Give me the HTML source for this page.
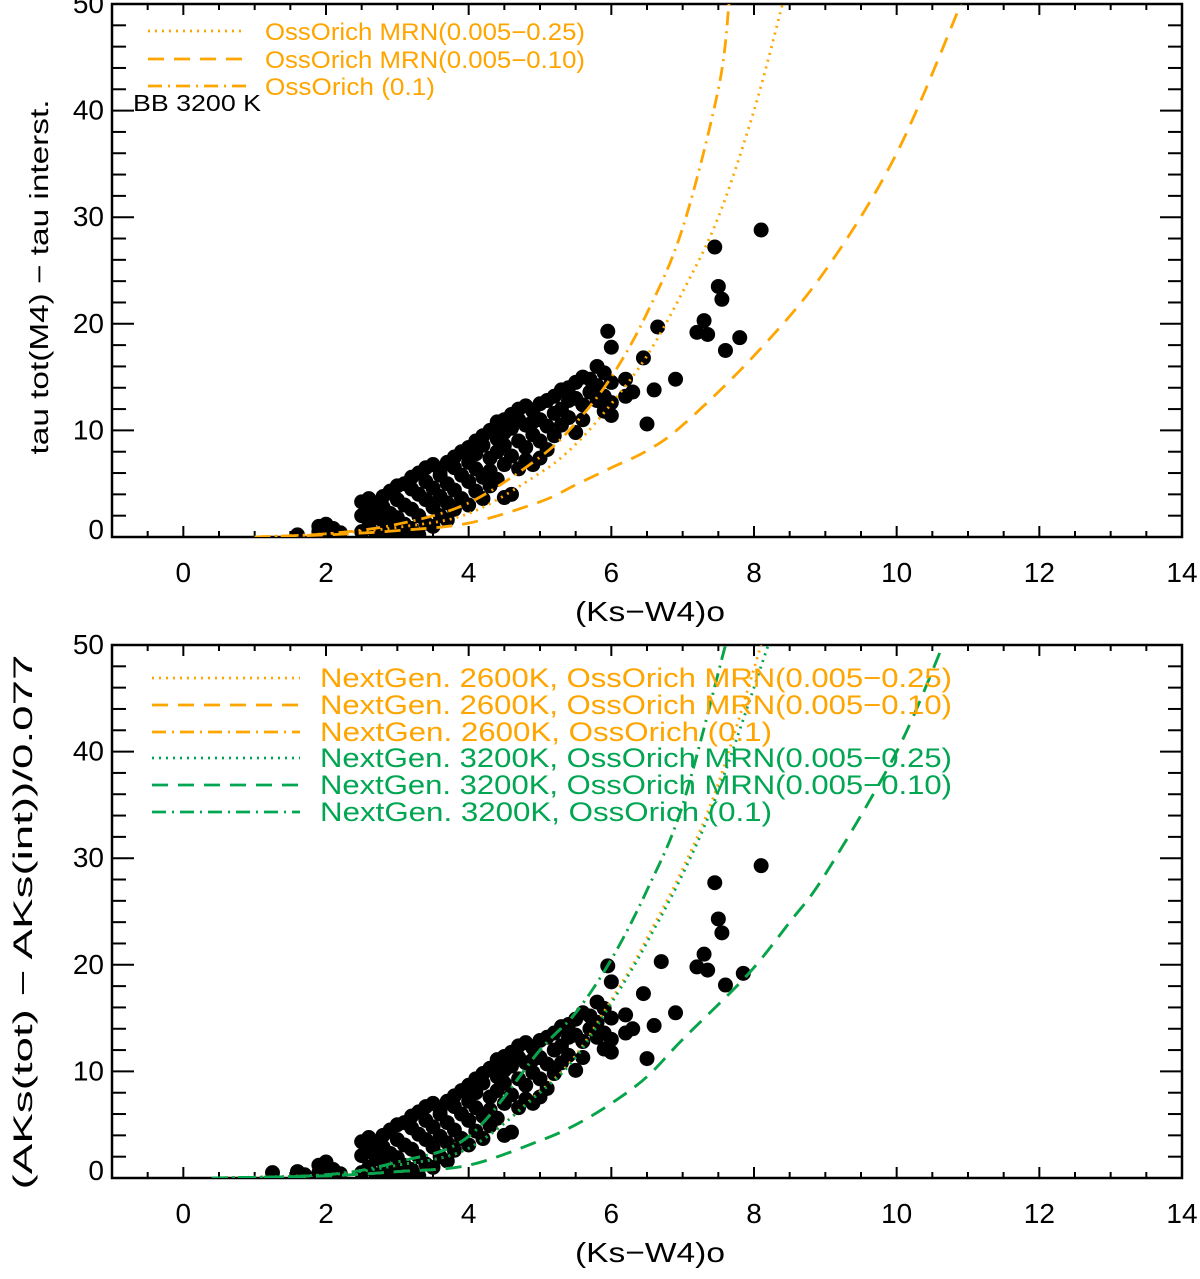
<!DOCTYPE html>
<html><head><meta charset="utf-8"><style>
html,body{margin:0;padding:0;background:#fff;}
svg{display:block;font-family:"Liberation Sans",sans-serif;}
</style></head><body>
<svg id="fig" width="1200" height="1279" viewBox="0 0 1200 1279" xmlns="http://www.w3.org/2000/svg"></svg>
<script>
// ---------- data ----------
const xTicks = [0,2,4,6,8,10,12,14];
const yTicks = [0,10,20,30,40,50];
const topCloud = [[1.6,0.2],[1.9,0.5],[1.9,1.0],[2.0,0.2],[2.0,1.2],[2.1,0.8],[2.2,0.4],[2.5,3.3],[2.5,2.0],[2.5,0.5],[2.6,3.6],[2.6,2.6],[2.6,1.0],[2.7,3.0],[2.7,1.8],[2.7,0.3],[2.8,3.8],[2.8,2.8],[2.8,1.5],[2.8,0.4],[2.9,4.3],[2.9,2.2],[2.9,0.8],[3.0,3.5],[3.0,4.8],[3.0,1.8],[3.0,0.5],[3.1,5.0],[3.1,3.0],[3.1,1.2],[3.1,0.2],[3.2,4.5],[3.2,5.6],[3.2,2.6],[3.2,0.8],[3.3,6.0],[3.3,4.0],[3.3,2.0],[3.3,0.2],[3.4,5.2],[3.4,6.5],[3.4,3.5],[3.4,1.3],[3.5,6.8],[3.5,4.6],[3.5,2.8],[3.5,1.0],[3.6,5.8],[3.6,6.2],[3.6,3.8],[3.6,2.0],[3.7,7.0],[3.7,5.0],[3.7,3.2],[3.7,1.6],[3.8,6.5],[3.8,7.5],[3.8,4.4],[3.8,2.6],[3.9,5.8],[3.9,8.0],[3.9,3.6],[4.0,7.0],[4.0,8.4],[4.0,5.2],[4.0,3.0],[4.1,6.4],[4.1,9.0],[4.1,7.8],[4.1,4.3],[4.2,8.6],[4.2,5.6],[4.2,9.5],[4.2,3.6],[4.3,7.4],[4.3,10.0],[4.3,6.2],[4.3,4.8],[4.4,9.2],[4.4,10.8],[4.4,8.0],[4.4,5.4],[4.5,11.0],[4.5,9.8],[4.5,6.8],[4.5,3.7],[4.5,8.6],[4.6,10.2],[4.6,11.5],[4.6,7.6],[4.6,4.0],[4.7,9.0],[4.7,11.0],[4.7,12.0],[4.7,6.4],[4.8,10.5],[4.8,8.4],[4.8,12.3],[4.8,7.2],[4.9,11.8],[4.9,9.6],[4.9,10.8],[4.9,6.8],[5.0,12.5],[5.0,11.0],[5.0,9.0],[5.0,7.4],[5.1,10.4],[5.1,12.8],[5.1,8.2],[5.2,13.2],[5.2,11.6],[5.2,9.5],[5.3,12.0],[5.3,13.8],[5.3,10.5],[5.4,14.0],[5.4,12.8],[5.4,11.2],[5.5,14.5],[5.5,13.0],[5.5,9.8],[5.6,15.0],[5.6,12.4],[5.6,11.0],[5.7,14.8],[5.7,13.6],[5.8,16.0],[5.8,14.2],[5.8,12.8],[5.9,15.4],[5.9,13.2],[5.9,11.8],[6.0,14.5],[6.0,12.6],[6.0,11.4],[6.0,17.8],[5.95,19.3],[6.2,13.2],[6.2,14.8],[6.3,13.6],[6.5,10.6],[6.45,16.8],[6.6,13.8],[6.65,19.7],[6.9,14.8],[7.45,27.2],[8.1,28.8],[7.5,23.5],[7.55,22.3],[7.3,20.3],[7.2,19.2],[7.35,19.0],[7.8,18.7],[7.6,17.5]];
const botCloud = [[1.25,0.5],[1.6,0.6],[1.7,0.3],[1.9,0.5],[1.9,1.2],[2.0,0.3],[2.0,1.5],[2.1,0.8],[2.2,0.4],[2.5,3.4],[2.5,2.1],[2.5,0.5],[2.6,3.8],[2.6,2.7],[2.6,1.0],[2.7,3.1],[2.7,1.8],[2.7,0.3],[2.8,4.0],[2.8,2.9],[2.8,1.5],[2.8,0.4],[2.9,4.5],[2.9,2.3],[2.9,0.8],[3.0,3.6],[3.0,5.0],[3.0,1.9],[3.0,0.5],[3.1,5.2],[3.1,3.1],[3.1,1.2],[3.1,0.2],[3.2,4.7],[3.2,5.8],[3.2,2.7],[3.2,0.8],[3.3,6.2],[3.3,4.1],[3.3,2.0],[3.3,0.2],[3.4,5.4],[3.4,6.7],[3.4,3.6],[3.4,1.3],[3.5,7.0],[3.5,4.8],[3.5,2.9],[3.5,1.0],[3.6,6.0],[3.6,6.4],[3.6,3.9],[3.6,2.0],[3.7,7.2],[3.7,5.2],[3.7,3.3],[3.7,1.6],[3.8,6.7],[3.8,7.7],[3.8,4.5],[3.8,2.6],[3.9,6.0],[3.9,8.2],[3.9,3.7],[4.0,7.2],[4.0,8.7],[4.0,5.4],[4.0,3.1],[4.1,6.6],[4.1,9.3],[4.1,8.0],[4.1,4.4],[4.2,8.9],[4.2,5.8],[4.2,9.8],[4.2,3.7],[4.3,7.6],[4.3,10.3],[4.3,6.4],[4.3,4.9],[4.4,9.5],[4.4,11.1],[4.4,8.2],[4.4,5.6],[4.5,11.4],[4.5,10.1],[4.5,7.0],[4.5,4.0],[4.5,8.9],[4.6,10.5],[4.6,11.8],[4.6,7.8],[4.6,4.3],[4.7,9.3],[4.7,11.3],[4.7,12.4],[4.7,6.6],[4.8,10.8],[4.8,8.7],[4.8,12.7],[4.8,7.4],[4.9,12.2],[4.9,9.9],[4.9,11.1],[4.9,7.0],[5.0,12.9],[5.0,11.3],[5.0,9.3],[5.0,7.6],[5.1,10.7],[5.1,13.2],[5.1,8.4],[5.2,13.6],[5.2,12.0],[5.2,9.8],[5.3,12.4],[5.3,14.2],[5.3,10.8],[5.4,14.4],[5.4,13.2],[5.4,11.5],[5.5,14.9],[5.5,13.4],[5.5,10.1],[5.6,15.5],[5.6,12.8],[5.6,11.3],[5.7,15.2],[5.7,14.0],[5.8,16.5],[5.8,14.6],[5.8,13.2],[5.9,15.9],[5.9,13.6],[5.9,12.1],[6.0,15.0],[6.0,13.0],[6.0,11.8],[6.0,18.4],[5.95,19.9],[6.2,13.6],[6.2,15.3],[6.3,14.0],[6.5,11.2],[6.45,17.3],[6.6,14.3],[6.7,20.3],[6.9,15.5],[7.45,27.7],[8.1,29.3],[7.5,24.3],[7.55,23.0],[7.3,21.0],[7.2,19.8],[7.35,19.5],[7.85,19.2],[7.6,18.1]];
// top model curves [x,y]
const topDot = [[1,0],[2,0.3],[3,0.9],[4,2.2],[5,6],[5.5,8.7],[6,12.5],[6.5,17],[7,23],[7.5,30],[8,40],[8.4,50]];
const topDash = [[1,0],[2,0.2],[3,0.6],[4,1.3],[5,3.3],[5.5,4.9],[6,6.5],[6.5,8.1],[7,10.5],[8,17],[9,25],[10,36],[10.9,50]];
const topDashDot = [[1,0],[2,0.3],[3,1.2],[4,3.2],[5,7.5],[5.5,10.7],[6,15],[6.5,21],[7,29],[7.5,42],[7.65,50]];
// bottom model curves
const orDot = [[0.4,0],[2,0.3],[3,1.2],[4,2.8],[5,8.1],[5.5,11.5],[6,16.7],[6.3,20],[6.5,22.5],[7,29],[7.5,37],[8.1,50]];
const orDash = [[0.4,0],[2,0.2],[3,0.6],[4,1.2],[5,3.5],[5.5,5],[6,7],[6.5,9.5],[7,13],[7.9,19],[8.5,24],[9,28.5],[10,40],[10.65,50]];
const orDashDot = [[0.4,0],[2,0.3],[3,1.5],[4,3.9],[5,12],[5.5,15.5],[6,20.5],[6.5,27],[7,35],[7.6,50]];
const grDot = [[0.4,0],[2,0.3],[3,1.2],[4,2.8],[5,8.0],[5.5,11.3],[6,16.4],[6.3,19.7],[6.5,22.1],[7,28.5],[7.5,36.3],[8.2,50]];
const grDash = [[0.4,0],[2,0.2],[3,0.6],[4,1.2],[5,3.5],[5.5,5],[6,7],[6.5,9.5],[7,13],[7.9,19],[8.5,24],[9,28.5],[10,40],[10.65,50]];
const grDashDot = [[0.4,0],[2,0.3],[3,1.5],[4,3.9],[5,12],[5.5,15.5],[6,20.5],[6.5,27],[7,35],[7.6,50]];

const OR = '#FFA500', GR = '#00A651';
const svg = document.getElementById('fig');
const NS = 'http://www.w3.org/2000/svg';
function mk(tag, attrs, parent){const e=document.createElementNS(NS,tag);for(const k in attrs)e.setAttribute(k,attrs[k]);(parent||svg).appendChild(e);return e;}
const DASH = {dot:'2,5', dash:'16,10', dashdot:'14,6,2,6'};
function smooth(pts){
  let d='M'+pts[0][0].toFixed(1)+','+pts[0][1].toFixed(1);
  for(let i=0;i<pts.length-1;i++){
    const p0=pts[i-1]||pts[i], p1=pts[i], p2=pts[i+1], p3=pts[i+2]||p2;
    const c1=[p1[0]+(p2[0]-p0[0])/6, p1[1]+(p2[1]-p0[1])/6];
    const c2=[p2[0]-(p3[0]-p1[0])/6, p2[1]-(p3[1]-p1[1])/6];
    d+=' C'+c1.map(v=>v.toFixed(1)).join(',')+' '+c2.map(v=>v.toFixed(1)).join(',')+' '+p2.map(v=>v.toFixed(1)).join(',');
  }
  return d;
}

function panel(P){
  const g = mk('g',{});
  
  
  const L=112,R=1182,T=P.top,B=P.bottom;
  const sx = v => L + (v - (-1)) * (R - L) / 15;
  const sy = v => B - v * (B - T) / 50;
  const clipId = P.name + '-clip';
  const cp = mk('clipPath',{id:clipId},g); mk('rect',{x:L,y:T,width:R-L,height:B-T},cp);
  const tg = mk('g',{stroke:'#000','stroke-width':2},g);
  
  
  for(let v=-1; v<=14.01; v+=0.5){
    const major = Math.abs(v % 2) < 1e-6, len = major?11:6, x=sx(v);
    mk('line',{x1:x,y1:B,x2:x,y2:B-len},tg); mk('line',{x1:x,y1:T,x2:x,y2:T+len},tg);
  }
  for(let v=0; v<=50; v+=2){
    const major = v%10===0, len = major?22:14, y=sy(v);
    mk('line',{x1:L,y1:y,x2:L+len,y2:y},tg); mk('line',{x1:R,y1:y,x2:R-len,y2:y},tg);
  }
  const fr = mk('rect',{x:L,y:T,width:R-L,height:B-T,fill:'none',stroke:'#000','stroke-width':2.5},g);
  
  
  xTicks.forEach(v=>{
    const t=mk('text',{x:sx(v),y:B+45,'font-size':28,'text-anchor':'middle'},g); t.textContent=v;
    
    
  });
  yTicks.forEach(v=>{
    const t=mk('text',{x:L-8,y:sy(v)+(v===0?2:9),'font-size':28,'text-anchor':'end'},g); t.textContent=v;
    
    
  });
  const xt=mk('text',{x:575,y:B+84,'font-size':28,textLength:150,lengthAdjust:'spacingAndGlyphs'},g); xt.textContent='(Ks\u2212W4)o';
  
  
  const yt=mk('text',{x:-P.ytlen/2,y:0,'font-size':P.ytfs,textLength:P.ytlen,lengthAdjust:'spacingAndGlyphs',transform:`translate(${P.ytx},${P.ytc}) rotate(-90)`},g); yt.textContent=P.ytitle;
  
  
  const pg = mk('g',{'clip-path':`url(#${clipId})`},g);
  P.points.forEach(p=>{
    const c=mk('circle',{cx:sx(p[0]),cy:sy(p[1]),r:7.5,fill:'#000'},pg);
    
    
  });
  P.curves.forEach(cv=>{
    const pts = cv.data.map(p=>[sx(p[0]),sy(p[1])]);
    const pa = mk('path',{d:smooth(pts),fill:'none',stroke:cv.color,'stroke-width':2.8,'stroke-dasharray':DASH[cv.style],'stroke-linecap':'butt'},pg);
    
    
  });
  P.legend.forEach(lg=>{
    const ln = mk('line',{x1:lg.x1,y1:lg.y-9,x2:lg.x2,y2:lg.y-9,stroke:lg.color,'stroke-width':2.8,'stroke-dasharray':DASH[lg.style]},g);
    
    
    const t = mk('text',{x:lg.tx,y:lg.y,'font-size':P.lfs,fill:lg.color,textLength:lg.w,lengthAdjust:'spacingAndGlyphs'},g); t.textContent=lg.label;
    
    
  });
  return {g,sx,sy};
}

const p1 = panel({name:'top-panel',top:4,bottom:537,ytx:48,ytc:277,ytlen:355,ytfs:26,lfs:24,ytitle:'tau tot(M4) \u2212 tau interst.',points:topCloud,
  curves:[{data:topDot,color:OR,style:'dot',name:'curve-mrn-025'},{data:topDash,color:OR,style:'dash',name:'curve-mrn-010'},{data:topDashDot,color:OR,style:'dashdot',name:'curve-single-01'}],
  legend:[{x1:148,x2:246,tx:265,y:40,w:320,color:OR,style:'dot',label:'OssOrich MRN(0.005\u22120.25)'},
          {x1:148,x2:246,tx:265,y:68,w:320,color:OR,style:'dash',label:'OssOrich MRN(0.005\u22120.10)'},
          {x1:148,x2:246,tx:265,y:95,w:170,color:OR,style:'dashdot',label:'OssOrich (0.1)'}]});
const bb = mk('text',{x:133,y:111,'font-size':23,fill:'#000',textLength:128,lengthAdjust:'spacingAndGlyphs'},p1.g); bb.textContent='BB 3200 K';



panel({name:'bottom-panel',top:645,bottom:1178,ytx:32,ytc:922,ytlen:535,ytfs:27,lfs:27,ytitle:'(AKs(tot) \u2212 AKs(int))/0.077',points:botCloud,
  curves:[{data:orDot,color:OR,style:'dot',name:'curve-2600-mrn-025'},{data:orDash,color:OR,style:'dash',name:'curve-2600-mrn-010'},{data:orDashDot,color:OR,style:'dashdot',name:'curve-2600-single'},
          {data:grDot,color:GR,style:'dot',name:'curve-3200-mrn-025'},{data:grDash,color:GR,style:'dash',name:'curve-3200-mrn-010'},{data:grDashDot,color:GR,style:'dashdot',name:'curve-3200-single'}],
  legend:[{x1:152,x2:300,tx:320,y:687,w:632,color:OR,style:'dot',label:'NextGen. 2600K, OssOrich MRN(0.005\u22120.25)'},
          {x1:152,x2:300,tx:320,y:714,w:632,color:OR,style:'dash',label:'NextGen. 2600K, OssOrich MRN(0.005\u22120.10)'},
          {x1:152,x2:300,tx:320,y:741,w:452,color:OR,style:'dashdot',label:'NextGen. 2600K, OssOrich (0.1)'},
          {x1:152,x2:300,tx:320,y:767,w:632,color:GR,style:'dot',label:'NextGen. 3200K, OssOrich MRN(0.005\u22120.25)'},
          {x1:152,x2:300,tx:320,y:794,w:632,color:GR,style:'dash',label:'NextGen. 3200K, OssOrich MRN(0.005\u22120.10)'},
          {x1:152,x2:300,tx:320,y:821,w:452,color:GR,style:'dashdot',label:'NextGen. 3200K, OssOrich (0.1)'}]});
</script>
</body></html>
